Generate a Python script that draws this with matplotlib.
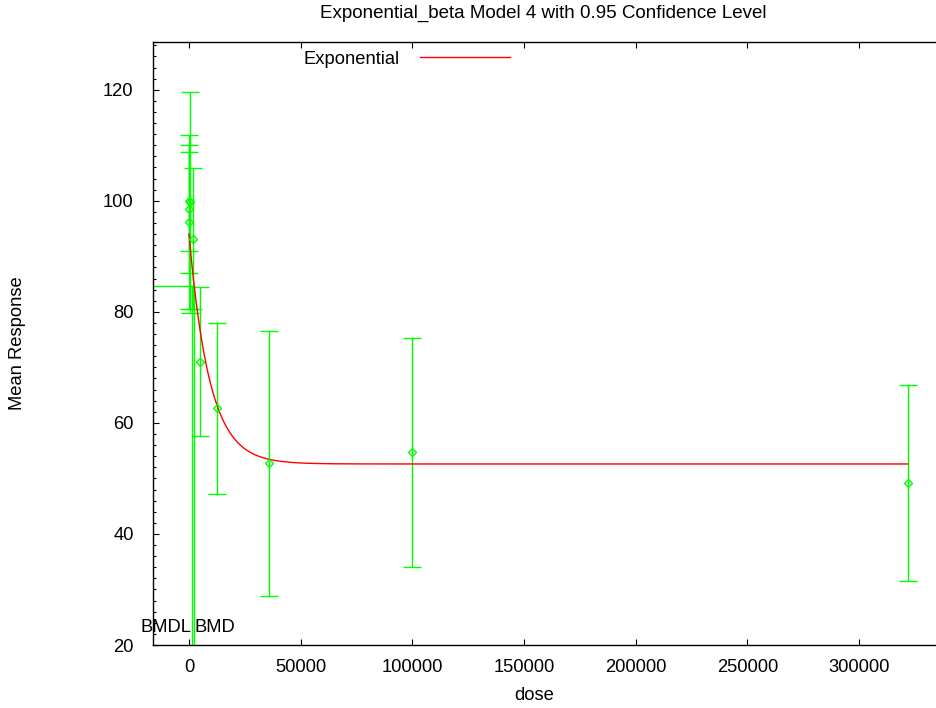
import numpy as np
import matplotlib.pyplot as plt
from matplotlib.ticker import MultipleLocator

plt.rcParams["font.family"] = ["Liberation Sans", "DejaVu Sans"]

# Dose groups with observed means and 95% confidence limits
doses = [0, 82, 230, 640, 1800, 5000, 12700, 36000, 100000, 322000]
means = [96.2, 100.0, 98.5, 99.7, 93.2, 71.0, 62.6, 52.7, 54.7, 49.2]
lower_cl = [80.5, 91.0, 87.0, 79.8, 80.5, 57.6, 47.2, 28.9, 34.1, 31.6]
upper_cl = [111.9, 108.8, 110.0, 119.6, 105.9, 84.4, 78.0, 76.5, 75.3, 66.9]

# Fitted exponential model 4: y = a * (c - (c - 1) * exp(-b * dose))
model_a = 94.0
model_b = 1.087e-4
model_c = 0.5596
bmr_fraction = 0.10
bmd = 2370
bmdl = 1340

title = "Exponential_beta Model 4 with 0.95 Confidence Level"
ytick_values = [20, 40, 60, 80, 100, 120]
xtick_values = [0, 50000, 100000, 150000, 200000, 250000, 300000]

GREEN = "#00ff00"
RED = "#ff0000"
FS = 13.2


def exp_model4(x):
    return model_a * (model_c - (model_c - 1.0) * np.exp(-model_b * x))


def main() -> None:
    fig = plt.figure(figsize=(9.37, 7.08), dpi=100)
    W, H = 937, 708
    # axes run a little past the right edge of the canvas
    ax = fig.add_axes([153 / W, 63 / H, (944 - 153) / W, (645 - 42) / H])

    dmax = max(doses)
    xmin, xmax = -dmax / 20, dmax * 1.05
    ymin, ymax = 20, 128.6
    ax.set_xlim(xmin, xmax)
    ax.set_ylim(ymin, ymax)

    d = np.array(doses, dtype=float)
    m = np.array(means)
    err = np.vstack([m - np.array(lower_cl), np.array(upper_cl) - m])
    ax.errorbar(d, m, yerr=err, fmt="none", ecolor=GREEN, elinewidth=1.0,
                capsize=6.8, capthick=1.0, zorder=2)

    # BMR level with BMD / BMDL markers
    bmr_y = model_a * (1 - bmr_fraction)
    ax.plot([xmin, bmd], [bmr_y, bmr_y], color=GREEN, lw=1.0, zorder=2)
    ax.plot([bmd, bmd], [bmr_y, ymin], color=GREEN, lw=1.0, zorder=2)
    ax.plot([bmdl, bmdl], [bmr_y, ymin], color=GREEN, lw=1.0, zorder=2)

    xs = np.linspace(0, dmax, 3000)
    ax.plot(xs, exp_model4(xs), color=RED, lw=1.0, zorder=3, label="Exponential")

    ax.plot(d, m, linestyle="none", marker="D", markersize=4.2,
            markerfacecolor="none", markeredgecolor=GREEN, markeredgewidth=1.0, zorder=4)

    ax.text(bmdl, 23.1, "BMDL", ha="right", va="center", fontsize=FS, zorder=5)
    ax.text(bmd, 23.1, "BMD", ha="left", va="center", fontsize=FS, zorder=5)

    ax.set_xticks(xtick_values)
    ax.set_yticks(ytick_values)
    ax.yaxis.set_minor_locator(MultipleLocator(2))
    ax.tick_params(axis="both", which="major", direction="in", top=True, right=True,
                   length=4.5, width=0.8, labelsize=FS, color="black")
    ax.tick_params(axis="y", which="minor", direction="in", right=True,
                   length=2.4, width=0.8)
    ax.tick_params(axis="y", which="major", pad=14)
    ax.tick_params(axis="x", which="major", pad=10)
    for sp in ax.spines.values():
        sp.set_linewidth(1.0)

    fig.legend(loc="center left", bbox_to_anchor=(304 / W, 1 - 59 / H),
               bbox_transform=fig.transFigure, frameon=False, markerfirst=False,
               handlelength=4.9, handletextpad=1.1, borderpad=0, borderaxespad=0,
               fontsize=FS)

    fig.text(543 / W, 1 - 13 / H, title, ha="center", va="center", fontsize=13.5)
    fig.text(534 / W, 1 - 695 / H, "dose", ha="center", va="center", fontsize=FS)
    fig.text(18 / W, 1 - 343 / H, "Mean Response", ha="center", va="center",
             rotation=90, fontsize=FS)

    fig.savefig("out.png", dpi=100)
    plt.close(fig)


if __name__ == "__main__":
    main()
